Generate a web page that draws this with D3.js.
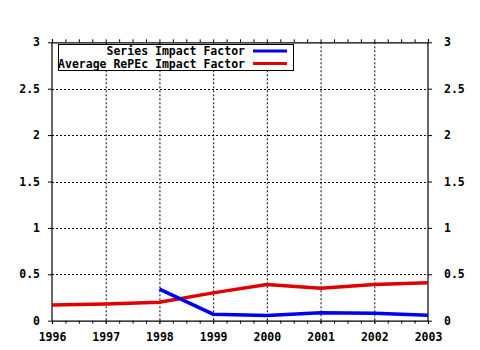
<!DOCTYPE html>
<html><head><meta charset="utf-8">
<script src="https://cdn.jsdelivr.net/npm/d3@7"></script>
<style>body{margin:0;background:#fff}svg{display:block}text{font-family:"DejaVu Sans Mono",monospace;font-weight:bold;font-size:11.5px;fill:#000}</style>
</head><body>
<svg id="c" width="480" height="350"></svg>
<script>
const years = [1996,1997,1998,1999,2000,2001,2002,2003];
const avgRepec = [0.17,0.18,0.20,0.30,0.39,0.35,0.39,0.41];
const seriesYears = [1998,1999,2000,2001,2002,2003];
const seriesIF = [0.34,0.07,0.055,0.085,0.08,0.06];
const yTicks = [0,0.5,1,1.5,2,2.5,3];
const yTickLabels = ["0","0.5","1","1.5","2","2.5","3"];
const legendNames = ["Series Impact Factor","Average RePEc Impact Factor"];
const colors = ["#0000f0","#e00000"];

const svg = d3.select("#c");
const L=52, R=428, T=42.3, B=320.7;
const x = d3.scaleLinear().domain([1996,2003]).range([L,R]);
const y = d3.scaleLinear().domain([0,3]).range([B,T]);

// grid
const g = svg.append("g");
g.selectAll(".vg").data(years.slice(1,-1)).join("line")
 .attr("x1",d=>x(d)+0.5).attr("x2",d=>x(d)+0.5).attr("y1",T).attr("y2",B)
 .attr("stroke","#000").attr("stroke-dasharray","2,2");
g.selectAll(".hg").data(yTicks.slice(1,-1)).join("line")
 .attr("y1",d=>Math.round(y(d))+0.5).attr("y2",d=>Math.round(y(d))+0.5).attr("x1",L).attr("x2",R)
 .attr("stroke","#000").attr("stroke-dasharray","2,2");

// axes
const fmt = (d)=>yTickLabels[yTicks.indexOf(d)];
const ax = svg.append("g").attr("transform",`translate(0,${B})`)
 .call(d3.axisBottom(x).tickValues(years).tickFormat(d3.format("d")).tickSize(3).tickPadding(9));
const axMinor = svg.append("g").attr("transform",`translate(0,${B})`)
 .call(d3.axisBottom(x).tickValues(d3.range(1996,2003.01,0.25)).tickFormat("").tickSize(3));
const axTop = svg.append("g").attr("transform",`translate(0,${T})`)
 .call(d3.axisTop(x).tickValues(d3.range(1996,2003.01,0.25)).tickFormat("").tickSize(3));
const ayL = svg.append("g").attr("transform",`translate(${L},0)`)
 .call(d3.axisLeft(y).tickValues(yTicks).tickFormat(fmt).tickSize(4).tickPadding(8));
const ayR = svg.append("g").attr("transform",`translate(${R},0)`)
 .call(d3.axisRight(y).tickValues(yTicks).tickFormat(fmt).tickSize(4).tickPadding(12));
svg.selectAll(".domain").attr("stroke","#000").attr("stroke-width",1.2);
svg.selectAll(".tick line").attr("stroke","#000");
svg.selectAll(".tick text").attr("font-family",null).attr("font-size",null).style("font-family","'DejaVu Sans Mono',monospace").style("font-weight","bold").style("font-size","11.5px");
axMinor.select(".domain").remove();
ayL.select(".domain").attr("d",`M0,${B}V${T}`);
ayR.select(".domain").attr("d",`M0,${B}V${T}`);

// lines
const line = d3.line().x(d=>x(d[0])).y(d=>y(d[1]));
svg.append("path").datum(years.map((d,i)=>[d,avgRepec[i]])).attr("d",line)
 .attr("fill","none").attr("stroke",colors[1]).attr("stroke-width",3.5);
svg.append("path").datum(seriesYears.map((d,i)=>[d,seriesIF[i]])).attr("d",line)
 .attr("fill","none").attr("stroke",colors[0]).attr("stroke-width",3.5);

// legend
const lg = svg.append("g");
lg.append("rect").attr("x",58.5).attr("y",44.5).attr("width",235).attr("height",26)
 .attr("fill","#fff").attr("stroke","#000");
legendNames.forEach((n,i)=>{
  const yy = 51 + i*12.6;
  lg.append("text").attr("x",245).attr("y",yy+4).attr("text-anchor","end").text(n);
  lg.append("line").attr("x1",253).attr("x2",287).attr("y1",yy).attr("y2",yy)
   .attr("stroke",colors[i]).attr("stroke-width",3);
});
</script>
</body></html>
